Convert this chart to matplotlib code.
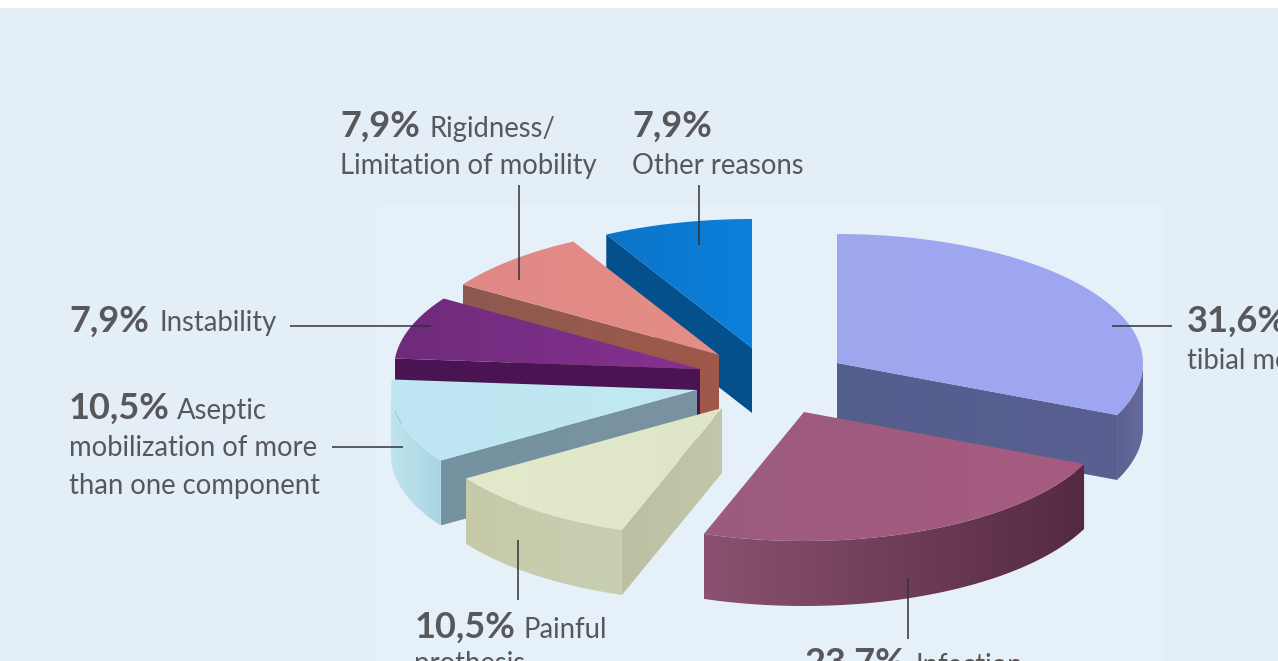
import numpy as np
import matplotlib
matplotlib.use('Agg')
import matplotlib.pyplot as plt
from matplotlib.colors import LinearSegmentedColormap
from matplotlib.patches import Polygon

# percentages, clockwise from 12 o'clock
reasons = ['Aseptic tibial mobilization', 'Infection', 'Painful prothesis',
           'Aseptic mobilization of more than one component', 'Instability',
           'Rigidness/Limitation of mobility', 'Other reasons']
shares = [31.6, 23.7, 10.5, 10.5, 7.9, 7.9, 7.9]

# look of each slice, same order as shares
apex_x = [837, 804, 722, 697, 700, 719, 752]
apex_y = [363, 412, 408, 390, 369, 355, 348]
top_left = ['#9ea7ee', '#9c5b7e', '#e3eacb', '#bde6f2', '#6f2a7c', '#e08886', '#0c74c8']
top_right = ['#a0a6f2', '#a65c80', '#dfe6c8', '#c0e9f2', '#85328f', '#e48e86', '#0b80dc']
side_left = ['#5a6290', '#8a5270', '#c6caa9', '#bfe4ef', '#47124f', '#8f5a4e', '#03528f']
side_right = ['#666a9c', '#552a40', '#c9cfb2', '#a8d6e2', '#47124f', '#8f5a4e', '#03528f']
cut_left = ['#545e8d', None, '#bcc0a2', '#74929f', '#4a1453', '#8c5a50', '#04508c']
cut_right = ['#5a6092', None, '#c3c7aa', '#7a93a2', '#4a1453', '#a0584a', '#04508c']
cut_edge = ['end', None, 'start', 'start', 'start', 'start', 'start']

RX, RY, DEPTH = 306, 129, 65
TEXT_GREY = '#58585a'
LINE_GREY = '#333335'

z = [2]


def shade(points, c0, c1):
    # left to right gradient clipped to the polygon
    pts = np.array(points)
    cmap = LinearSegmentedColormap.from_list('s', [c0, c1])
    grad = np.linspace(0, 1, 256).reshape(1, -1)
    extent = (pts[:, 0].min(), pts[:, 0].max(), pts[:, 1].max(), pts[:, 1].min())
    im = ax.imshow(grad, cmap=cmap, extent=extent, aspect='auto', zorder=z[0], interpolation='bilinear')
    patch = Polygon(pts, closed=True, transform=ax.transData)
    im.set_clip_path(patch)
    z[0] += 1


def rim(cx, cy, a0, a1, drop=0):
    ang = np.radians(np.linspace(a0, a1, 80))
    return np.column_stack([cx + RX * np.cos(ang), cy - RY * np.sin(ang) + drop])


fig = plt.figure(figsize=(12.78, 6.61), dpi=100, facecolor='white')
ax = fig.add_axes([0, 0, 1, 1])
ax.axis('off')

ax.add_patch(plt.Rectangle((0, 8), 1278, 653, color='#e3eef7', zorder=0, linewidth=0))
ax.add_patch(plt.Rectangle((378, 205), 787, 456, color='#e5f0f8', zorder=1, linewidth=0))

ends = 90 - np.cumsum(shares) * 3.6
starts = np.concatenate([[90], ends[:-1]])

# back to front
for i in [0, 6, 5, 4, 3, 2, 1]:
    cx, cy = apex_x[i], apex_y[i]
    a0, a1 = starts[i], ends[i]

    if cut_edge[i] is not None:
        a = a0 if cut_edge[i] == 'start' else a1
        tip = rim(cx, cy, a, a)[0]
        shade([(cx, cy), tuple(tip), (tip[0], tip[1] + DEPTH), (cx, cy + DEPTH)], cut_left[i], cut_right[i])

    # outer wall only where it faces the viewer
    lo, hi = max(a1, -180), min(a0, 0)
    if hi > lo:
        upper = rim(cx, cy, hi, lo)
        lower = rim(cx, cy, lo, hi, DEPTH)
        shade(np.vstack([upper, lower]), side_left[i], side_right[i])

    top = np.vstack([[(cx, cy)], rim(cx, cy, a0, a1)])
    shade(top, top_left[i], top_right[i])

# leader lines
leaders = [((519, 185), (519, 280)), ((699, 185), (699, 245)), ((290, 326), (431, 326)),
           ((332, 447), (403, 447)), ((518, 540), (518, 600)), ((908, 578), (908, 639)),
           ((1112, 326), (1172, 326))]
for p, q in leaders:
    ax.plot([p[0], q[0]], [p[1], q[1]], color=LINE_GREY, lw=1.1, zorder=50, solid_capstyle='butt')

pct_labels = [('7,9%', 340, 137), ('7,9%', 632, 137), ('7,9%', 69, 332), ('10,5%', 69, 419),
              ('10,5%', 415, 638), ('31,6%', 1187, 332), ('23,7%', 805, 674)]
name_labels = [('Rigidness/', 429, 137), ('Limitation of mobility', 340, 174),
               ('Other reasons', 632, 174), ('Instability', 159, 331),
               ('Aseptic', 177, 419), ('mobilization of more', 69, 456),
               ('than one component', 69, 494), ('Painful', 524, 638),
               ('prothesis', 414, 672), ('tibial mobilization', 1187, 369),
               ('Infection', 915, 674)]

for s, x, y in pct_labels:
    ax.text(x, y, s, fontsize=26, fontweight='bold', color=TEXT_GREY, family='Lato',
            va='baseline', ha='left', zorder=60)
for s, x, y in name_labels:
    ax.text(x, y, s, fontsize=19.8, color=TEXT_GREY, family='Lato',
            va='baseline', ha='left', zorder=60)

ax.set_xlim(0, 1278)
ax.set_ylim(661, 0)
fig.savefig('out.png', dpi=100, facecolor='white')
